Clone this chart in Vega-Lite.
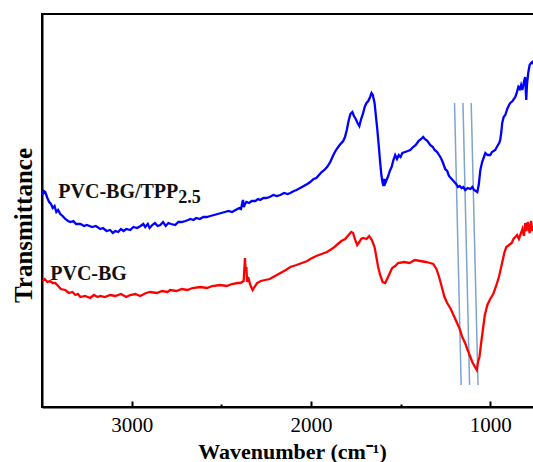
{
  "$schema": "https://vega.github.io/schema/vega-lite/v6.json",
  "width": 495,
  "height": 393,
  "autosize": {"type": "none"},
  "padding": {"left": 42, "top": 14, "right": 0, "bottom": 55},
  "background": "white",
  "config": {
    "view": {"stroke": "black", "strokeWidth": 2},
    "font": "Liberation Serif"
  },
  "datasets": {
    "spectra": [
      {"s":"PVC-BG/TPP2.5","wn":3498,"t":212},{"s":"PVC-BG/TPP2.5","wn":3490,"t":216},{"s":"PVC-BG/TPP2.5","wn":3482,"t":215},{"s":"PVC-BG/TPP2.5","wn":3470,"t":209},{"s":"PVC-BG/TPP2.5","wn":3460,"t":205},{"s":"PVC-BG/TPP2.5","wn":3450,"t":203},{"s":"PVC-BG/TPP2.5","wn":3440,"t":199},{"s":"PVC-BG/TPP2.5","wn":3430,"t":201},{"s":"PVC-BG/TPP2.5","wn":3420,"t":195},{"s":"PVC-BG/TPP2.5","wn":3410,"t":197},{"s":"PVC-BG/TPP2.5","wn":3398,"t":193},{"s":"PVC-BG/TPP2.5","wn":3385,"t":191},{"s":"PVC-BG/TPP2.5","wn":3370,"t":188},{"s":"PVC-BG/TPP2.5","wn":3355,"t":186},{"s":"PVC-BG/TPP2.5","wn":3342,"t":185},{"s":"PVC-BG/TPP2.5","wn":3325,"t":186},{"s":"PVC-BG/TPP2.5","wn":3310,"t":183},{"s":"PVC-BG/TPP2.5","wn":3286,"t":183},{"s":"PVC-BG/TPP2.5","wn":3265,"t":181},{"s":"PVC-BG/TPP2.5","wn":3250,"t":182},{"s":"PVC-BG/TPP2.5","wn":3220,"t":180},{"s":"PVC-BG/TPP2.5","wn":3200,"t":181},{"s":"PVC-BG/TPP2.5","wn":3175,"t":178},{"s":"PVC-BG/TPP2.5","wn":3160,"t":179},{"s":"PVC-BG/TPP2.5","wn":3140,"t":176},{"s":"PVC-BG/TPP2.5","wn":3120,"t":177},{"s":"PVC-BG/TPP2.5","wn":3105,"t":174},{"s":"PVC-BG/TPP2.5","wn":3091,"t":176},{"s":"PVC-BG/TPP2.5","wn":3075,"t":175},{"s":"PVC-BG/TPP2.5","wn":3060,"t":178},{"s":"PVC-BG/TPP2.5","wn":3045,"t":176},{"s":"PVC-BG/TPP2.5","wn":3030,"t":178},{"s":"PVC-BG/TPP2.5","wn":3008,"t":177},{"s":"PVC-BG/TPP2.5","wn":2990,"t":180},{"s":"PVC-BG/TPP2.5","wn":2970,"t":179},{"s":"PVC-BG/TPP2.5","wn":2950,"t":181},{"s":"PVC-BG/TPP2.5","wn":2935,"t":183},{"s":"PVC-BG/TPP2.5","wn":2924,"t":180},{"s":"PVC-BG/TPP2.5","wn":2910,"t":183},{"s":"PVC-BG/TPP2.5","wn":2900,"t":179},{"s":"PVC-BG/TPP2.5","wn":2885,"t":182},{"s":"PVC-BG/TPP2.5","wn":2870,"t":184},{"s":"PVC-BG/TPP2.5","wn":2855,"t":181},{"s":"PVC-BG/TPP2.5","wn":2840,"t":182},{"s":"PVC-BG/TPP2.5","wn":2825,"t":185},{"s":"PVC-BG/TPP2.5","wn":2810,"t":181},{"s":"PVC-BG/TPP2.5","wn":2795,"t":184},{"s":"PVC-BG/TPP2.5","wn":2780,"t":183},{"s":"PVC-BG/TPP2.5","wn":2757,"t":182},{"s":"PVC-BG/TPP2.5","wn":2740,"t":185},{"s":"PVC-BG/TPP2.5","wn":2720,"t":185},{"s":"PVC-BG/TPP2.5","wn":2700,"t":186},{"s":"PVC-BG/TPP2.5","wn":2685,"t":187},{"s":"PVC-BG/TPP2.5","wn":2673,"t":188},{"s":"PVC-BG/TPP2.5","wn":2655,"t":187},{"s":"PVC-BG/TPP2.5","wn":2640,"t":189},{"s":"PVC-BG/TPP2.5","wn":2620,"t":188},{"s":"PVC-BG/TPP2.5","wn":2600,"t":190},{"s":"PVC-BG/TPP2.5","wn":2580,"t":190},{"s":"PVC-BG/TPP2.5","wn":2561,"t":191},{"s":"PVC-BG/TPP2.5","wn":2540,"t":192},{"s":"PVC-BG/TPP2.5","wn":2520,"t":193},{"s":"PVC-BG/TPP2.5","wn":2500,"t":194},{"s":"PVC-BG/TPP2.5","wn":2480,"t":195},{"s":"PVC-BG/TPP2.5","wn":2460,"t":196},{"s":"PVC-BG/TPP2.5","wn":2440,"t":195},{"s":"PVC-BG/TPP2.5","wn":2420,"t":197},{"s":"PVC-BG/TPP2.5","wn":2400,"t":199},{"s":"PVC-BG/TPP2.5","wn":2390,"t":198},{"s":"PVC-BG/TPP2.5","wn":2383,"t":204},{"s":"PVC-BG/TPP2.5","wn":2379,"t":207},{"s":"PVC-BG/TPP2.5","wn":2374,"t":200},{"s":"PVC-BG/TPP2.5","wn":2368,"t":203},{"s":"PVC-BG/TPP2.5","wn":2360,"t":205},{"s":"PVC-BG/TPP2.5","wn":2345,"t":204},{"s":"PVC-BG/TPP2.5","wn":2330,"t":206},{"s":"PVC-BG/TPP2.5","wn":2310,"t":206},{"s":"PVC-BG/TPP2.5","wn":2295,"t":208},{"s":"PVC-BG/TPP2.5","wn":2283,"t":207},{"s":"PVC-BG/TPP2.5","wn":2265,"t":209},{"s":"PVC-BG/TPP2.5","wn":2250,"t":209},{"s":"PVC-BG/TPP2.5","wn":2230,"t":210},{"s":"PVC-BG/TPP2.5","wn":2210,"t":212},{"s":"PVC-BG/TPP2.5","wn":2190,"t":211},{"s":"PVC-BG/TPP2.5","wn":2171,"t":212},{"s":"PVC-BG/TPP2.5","wn":2150,"t":214},{"s":"PVC-BG/TPP2.5","wn":2130,"t":213},{"s":"PVC-BG/TPP2.5","wn":2115,"t":214},{"s":"PVC-BG/TPP2.5","wn":2095,"t":216},{"s":"PVC-BG/TPP2.5","wn":2080,"t":217},{"s":"PVC-BG/TPP2.5","wn":2060,"t":219},{"s":"PVC-BG/TPP2.5","wn":2040,"t":221},{"s":"PVC-BG/TPP2.5","wn":2020,"t":223},{"s":"PVC-BG/TPP2.5","wn":2004,"t":225},{"s":"PVC-BG/TPP2.5","wn":1985,"t":228},{"s":"PVC-BG/TPP2.5","wn":1970,"t":229},{"s":"PVC-BG/TPP2.5","wn":1955,"t":232},{"s":"PVC-BG/TPP2.5","wn":1940,"t":235},{"s":"PVC-BG/TPP2.5","wn":1925,"t":237},{"s":"PVC-BG/TPP2.5","wn":1910,"t":240},{"s":"PVC-BG/TPP2.5","wn":1892,"t":245},{"s":"PVC-BG/TPP2.5","wn":1875,"t":252},{"s":"PVC-BG/TPP2.5","wn":1860,"t":257},{"s":"PVC-BG/TPP2.5","wn":1840,"t":262},{"s":"PVC-BG/TPP2.5","wn":1820,"t":266},{"s":"PVC-BG/TPP2.5","wn":1810,"t":270},{"s":"PVC-BG/TPP2.5","wn":1800,"t":277},{"s":"PVC-BG/TPP2.5","wn":1790,"t":286},{"s":"PVC-BG/TPP2.5","wn":1780,"t":293},{"s":"PVC-BG/TPP2.5","wn":1769,"t":295},{"s":"PVC-BG/TPP2.5","wn":1760,"t":291},{"s":"PVC-BG/TPP2.5","wn":1750,"t":288},{"s":"PVC-BG/TPP2.5","wn":1740,"t":284},{"s":"PVC-BG/TPP2.5","wn":1730,"t":281},{"s":"PVC-BG/TPP2.5","wn":1720,"t":288},{"s":"PVC-BG/TPP2.5","wn":1710,"t":293},{"s":"PVC-BG/TPP2.5","wn":1700,"t":300},{"s":"PVC-BG/TPP2.5","wn":1690,"t":304},{"s":"PVC-BG/TPP2.5","wn":1680,"t":306},{"s":"PVC-BG/TPP2.5","wn":1670,"t":310},{"s":"PVC-BG/TPP2.5","wn":1662,"t":314},{"s":"PVC-BG/TPP2.5","wn":1655,"t":312},{"s":"PVC-BG/TPP2.5","wn":1645,"t":304},{"s":"PVC-BG/TPP2.5","wn":1637,"t":290},{"s":"PVC-BG/TPP2.5","wn":1630,"t":278},{"s":"PVC-BG/TPP2.5","wn":1622,"t":262},{"s":"PVC-BG/TPP2.5","wn":1614,"t":245},{"s":"PVC-BG/TPP2.5","wn":1607,"t":232},{"s":"PVC-BG/TPP2.5","wn":1600,"t":224},{"s":"PVC-BG/TPP2.5","wn":1595,"t":221},{"s":"PVC-BG/TPP2.5","wn":1590,"t":228},{"s":"PVC-BG/TPP2.5","wn":1585,"t":224},{"s":"PVC-BG/TPP2.5","wn":1578,"t":227},{"s":"PVC-BG/TPP2.5","wn":1569,"t":231},{"s":"PVC-BG/TPP2.5","wn":1560,"t":236},{"s":"PVC-BG/TPP2.5","wn":1550,"t":240},{"s":"PVC-BG/TPP2.5","wn":1540,"t":247},{"s":"PVC-BG/TPP2.5","wn":1530,"t":252},{"s":"PVC-BG/TPP2.5","wn":1520,"t":248},{"s":"PVC-BG/TPP2.5","wn":1510,"t":252},{"s":"PVC-BG/TPP2.5","wn":1500,"t":250},{"s":"PVC-BG/TPP2.5","wn":1490,"t":254},{"s":"PVC-BG/TPP2.5","wn":1475,"t":255},{"s":"PVC-BG/TPP2.5","wn":1460,"t":256},{"s":"PVC-BG/TPP2.5","wn":1446,"t":257},{"s":"PVC-BG/TPP2.5","wn":1430,"t":260},{"s":"PVC-BG/TPP2.5","wn":1415,"t":262},{"s":"PVC-BG/TPP2.5","wn":1400,"t":266},{"s":"PVC-BG/TPP2.5","wn":1385,"t":268},{"s":"PVC-BG/TPP2.5","wn":1374,"t":270},{"s":"PVC-BG/TPP2.5","wn":1365,"t":268},{"s":"PVC-BG/TPP2.5","wn":1350,"t":266},{"s":"PVC-BG/TPP2.5","wn":1335,"t":262},{"s":"PVC-BG/TPP2.5","wn":1320,"t":260},{"s":"PVC-BG/TPP2.5","wn":1310,"t":257},{"s":"PVC-BG/TPP2.5","wn":1296,"t":255},{"s":"PVC-BG/TPP2.5","wn":1285,"t":252},{"s":"PVC-BG/TPP2.5","wn":1275,"t":249},{"s":"PVC-BG/TPP2.5","wn":1265,"t":245},{"s":"PVC-BG/TPP2.5","wn":1251,"t":238},{"s":"PVC-BG/TPP2.5","wn":1240,"t":236},{"s":"PVC-BG/TPP2.5","wn":1230,"t":231},{"s":"PVC-BG/TPP2.5","wn":1215,"t":228},{"s":"PVC-BG/TPP2.5","wn":1200,"t":225},{"s":"PVC-BG/TPP2.5","wn":1190,"t":223},{"s":"PVC-BG/TPP2.5","wn":1180,"t":220},{"s":"PVC-BG/TPP2.5","wn":1170,"t":221},{"s":"PVC-BG/TPP2.5","wn":1160,"t":219},{"s":"PVC-BG/TPP2.5","wn":1150,"t":220},{"s":"PVC-BG/TPP2.5","wn":1139,"t":217},{"s":"PVC-BG/TPP2.5","wn":1125,"t":219},{"s":"PVC-BG/TPP2.5","wn":1110,"t":218},{"s":"PVC-BG/TPP2.5","wn":1100,"t":220},{"s":"PVC-BG/TPP2.5","wn":1090,"t":217},{"s":"PVC-BG/TPP2.5","wn":1080,"t":216},{"s":"PVC-BG/TPP2.5","wn":1072,"t":215},{"s":"PVC-BG/TPP2.5","wn":1064,"t":222},{"s":"PVC-BG/TPP2.5","wn":1055,"t":237},{"s":"PVC-BG/TPP2.5","wn":1045,"t":245},{"s":"PVC-BG/TPP2.5","wn":1035,"t":250},{"s":"PVC-BG/TPP2.5","wn":1027,"t":254},{"s":"PVC-BG/TPP2.5","wn":1015,"t":252},{"s":"PVC-BG/TPP2.5","wn":1000,"t":252},{"s":"PVC-BG/TPP2.5","wn":990,"t":255},{"s":"PVC-BG/TPP2.5","wn":972,"t":257},{"s":"PVC-BG/TPP2.5","wn":960,"t":261},{"s":"PVC-BG/TPP2.5","wn":950,"t":264},{"s":"PVC-BG/TPP2.5","wn":944,"t":267},{"s":"PVC-BG/TPP2.5","wn":938,"t":275},{"s":"PVC-BG/TPP2.5","wn":933,"t":284},{"s":"PVC-BG/TPP2.5","wn":925,"t":290},{"s":"PVC-BG/TPP2.5","wn":916,"t":292},{"s":"PVC-BG/TPP2.5","wn":905,"t":298},{"s":"PVC-BG/TPP2.5","wn":895,"t":302},{"s":"PVC-BG/TPP2.5","wn":888,"t":304},{"s":"PVC-BG/TPP2.5","wn":875,"t":306},{"s":"PVC-BG/TPP2.5","wn":860,"t":310},{"s":"PVC-BG/TPP2.5","wn":852,"t":314},{"s":"PVC-BG/TPP2.5","wn":843,"t":320},{"s":"PVC-BG/TPP2.5","wn":835,"t":318},{"s":"PVC-BG/TPP2.5","wn":828,"t":322},{"s":"PVC-BG/TPP2.5","wn":821,"t":317},{"s":"PVC-BG/TPP2.5","wn":812,"t":325},{"s":"PVC-BG/TPP2.5","wn":805,"t":330},{"s":"PVC-BG/TPP2.5","wn":799,"t":307},{"s":"PVC-BG/TPP2.5","wn":795,"t":322},{"s":"PVC-BG/TPP2.5","wn":788,"t":334},{"s":"PVC-BG/TPP2.5","wn":780,"t":342},{"s":"PVC-BG/TPP2.5","wn":772,"t":344},{"s":"PVC-BG/TPP2.5","wn":766,"t":345},{"s":"PVC-BG/TPP2.5","wn":760,"t":343},

      {"s":"PVC-BG","wn":3498,"t":126},{"s":"PVC-BG","wn":3485,"t":128},{"s":"PVC-BG","wn":3470,"t":125},{"s":"PVC-BG","wn":3455,"t":126},{"s":"PVC-BG","wn":3440,"t":124},{"s":"PVC-BG","wn":3426,"t":124},{"s":"PVC-BG","wn":3410,"t":121},{"s":"PVC-BG","wn":3395,"t":118},{"s":"PVC-BG","wn":3370,"t":117},{"s":"PVC-BG","wn":3350,"t":114},{"s":"PVC-BG","wn":3330,"t":115},{"s":"PVC-BG","wn":3314,"t":112},{"s":"PVC-BG","wn":3300,"t":113},{"s":"PVC-BG","wn":3286,"t":110},{"s":"PVC-BG","wn":3260,"t":111},{"s":"PVC-BG","wn":3231,"t":109},{"s":"PVC-BG","wn":3210,"t":112},{"s":"PVC-BG","wn":3190,"t":110},{"s":"PVC-BG","wn":3175,"t":111},{"s":"PVC-BG","wn":3150,"t":110},{"s":"PVC-BG","wn":3120,"t":112},{"s":"PVC-BG","wn":3091,"t":111},{"s":"PVC-BG","wn":3060,"t":113},{"s":"PVC-BG","wn":3030,"t":110},{"s":"PVC-BG","wn":3008,"t":112},{"s":"PVC-BG","wn":2980,"t":113},{"s":"PVC-BG","wn":2952,"t":111},{"s":"PVC-BG","wn":2920,"t":114},{"s":"PVC-BG","wn":2896,"t":115},{"s":"PVC-BG","wn":2860,"t":114},{"s":"PVC-BG","wn":2830,"t":116},{"s":"PVC-BG","wn":2800,"t":115},{"s":"PVC-BG","wn":2785,"t":117},{"s":"PVC-BG","wn":2750,"t":116},{"s":"PVC-BG","wn":2720,"t":118},{"s":"PVC-BG","wn":2690,"t":117},{"s":"PVC-BG","wn":2660,"t":119},{"s":"PVC-BG","wn":2617,"t":120},{"s":"PVC-BG","wn":2580,"t":119},{"s":"PVC-BG","wn":2550,"t":121},{"s":"PVC-BG","wn":2506,"t":122},{"s":"PVC-BG","wn":2470,"t":121},{"s":"PVC-BG","wn":2440,"t":123},{"s":"PVC-BG","wn":2410,"t":124},{"s":"PVC-BG","wn":2394,"t":124},{"s":"PVC-BG","wn":2375,"t":126},{"s":"PVC-BG","wn":2368,"t":149},{"s":"PVC-BG","wn":2364,"t":136},{"s":"PVC-BG","wn":2360,"t":140},{"s":"PVC-BG","wn":2356,"t":125},{"s":"PVC-BG","wn":2350,"t":130},{"s":"PVC-BG","wn":2338,"t":122},{"s":"PVC-BG","wn":2325,"t":117},{"s":"PVC-BG","wn":2315,"t":120},{"s":"PVC-BG","wn":2300,"t":124},{"s":"PVC-BG","wn":2280,"t":126},{"s":"PVC-BG","wn":2255,"t":127},{"s":"PVC-BG","wn":2230,"t":128},{"s":"PVC-BG","wn":2200,"t":131},{"s":"PVC-BG","wn":2170,"t":134},{"s":"PVC-BG","wn":2140,"t":137},{"s":"PVC-BG","wn":2115,"t":140},{"s":"PVC-BG","wn":2080,"t":142},{"s":"PVC-BG","wn":2050,"t":144},{"s":"PVC-BG","wn":2020,"t":146},{"s":"PVC-BG","wn":2004,"t":148},{"s":"PVC-BG","wn":1970,"t":151},{"s":"PVC-BG","wn":1940,"t":153},{"s":"PVC-BG","wn":1910,"t":155},{"s":"PVC-BG","wn":1876,"t":159},{"s":"PVC-BG","wn":1850,"t":163},{"s":"PVC-BG","wn":1830,"t":166},{"s":"PVC-BG","wn":1809,"t":168},{"s":"PVC-BG","wn":1790,"t":172},{"s":"PVC-BG","wn":1775,"t":175},{"s":"PVC-BG","wn":1765,"t":174},{"s":"PVC-BG","wn":1755,"t":168},{"s":"PVC-BG","wn":1742,"t":162},{"s":"PVC-BG","wn":1730,"t":165},{"s":"PVC-BG","wn":1720,"t":168},{"s":"PVC-BG","wn":1708,"t":169},{"s":"PVC-BG","wn":1690,"t":168},{"s":"PVC-BG","wn":1675,"t":171},{"s":"PVC-BG","wn":1660,"t":167},{"s":"PVC-BG","wn":1645,"t":160},{"s":"PVC-BG","wn":1635,"t":150},{"s":"PVC-BG","wn":1625,"t":140},{"s":"PVC-BG","wn":1614,"t":132},{"s":"PVC-BG","wn":1600,"t":125},{"s":"PVC-BG","wn":1586,"t":124},{"s":"PVC-BG","wn":1575,"t":128},{"s":"PVC-BG","wn":1560,"t":134},{"s":"PVC-BG","wn":1547,"t":139},{"s":"PVC-BG","wn":1530,"t":141},{"s":"PVC-BG","wn":1514,"t":144},{"s":"PVC-BG","wn":1480,"t":145},{"s":"PVC-BG","wn":1450,"t":144},{"s":"PVC-BG","wn":1420,"t":147},{"s":"PVC-BG","wn":1390,"t":146},{"s":"PVC-BG","wn":1360,"t":145},{"s":"PVC-BG","wn":1335,"t":144},{"s":"PVC-BG","wn":1318,"t":143},{"s":"PVC-BG","wn":1300,"t":138},{"s":"PVC-BG","wn":1285,"t":130},{"s":"PVC-BG","wn":1270,"t":120},{"s":"PVC-BG","wn":1255,"t":110},{"s":"PVC-BG","wn":1240,"t":104},{"s":"PVC-BG","wn":1220,"t":98},{"s":"PVC-BG","wn":1200,"t":90},{"s":"PVC-BG","wn":1185,"t":84},{"s":"PVC-BG","wn":1170,"t":78},{"s":"PVC-BG","wn":1156,"t":70},{"s":"PVC-BG","wn":1140,"t":64},{"s":"PVC-BG","wn":1128,"t":58},{"s":"PVC-BG","wn":1115,"t":52},{"s":"PVC-BG","wn":1100,"t":45},{"s":"PVC-BG","wn":1085,"t":40},{"s":"PVC-BG","wn":1075,"t":37},{"s":"PVC-BG","wn":1068,"t":45},{"s":"PVC-BG","wn":1060,"t":50},{"s":"PVC-BG","wn":1052,"t":62},{"s":"PVC-BG","wn":1044,"t":73},{"s":"PVC-BG","wn":1030,"t":92},{"s":"PVC-BG","wn":1016,"t":102},{"s":"PVC-BG","wn":1000,"t":108},{"s":"PVC-BG","wn":983,"t":113},{"s":"PVC-BG","wn":965,"t":122},{"s":"PVC-BG","wn":950,"t":131},{"s":"PVC-BG","wn":935,"t":143},{"s":"PVC-BG","wn":920,"t":155},{"s":"PVC-BG","wn":910,"t":160},{"s":"PVC-BG","wn":895,"t":162},{"s":"PVC-BG","wn":880,"t":164},{"s":"PVC-BG","wn":870,"t":168},{"s":"PVC-BG","wn":860,"t":170},{"s":"PVC-BG","wn":850,"t":172},{"s":"PVC-BG","wn":840,"t":168},{"s":"PVC-BG","wn":828,"t":174},{"s":"PVC-BG","wn":820,"t":178},{"s":"PVC-BG","wn":812,"t":171},{"s":"PVC-BG","wn":805,"t":184},{"s":"PVC-BG","wn":798,"t":176},{"s":"PVC-BG","wn":790,"t":185},{"s":"PVC-BG","wn":780,"t":174},{"s":"PVC-BG","wn":772,"t":186},{"s":"PVC-BG","wn":765,"t":176},{"s":"PVC-BG","wn":760,"t":180}
    ],
    "guides": [
      {"wn":1199,"t":304,"wn2":1162,"t2":22},
      {"wn":1152,"t":304,"wn2":1115,"t2":22},
      {"wn":1106,"t":304,"wn2":1068,"t2":22}
    ],
    "labels": [
      {"wn":3409,"t":215,"text":"PVC-BG/TPP","size":20},
      {"wn":2740,"t":209,"text":"2.5","size":18},
      {"wn":3454,"t":133,"text":"PVC-BG","size":20}
    ]
  },
  "encoding": {
    "x": {
      "field": "wn", "type": "quantitative",
      "scale": {"domain": [739, 3500], "reverse": true, "nice": false, "zero": false},
      "axis": {
        "title": "Wavenumber (cm⁻¹)",
        "values": [3000, 2500, 2000, 1500, 1000],
        "labelExpr": "datum.value % 1000 === 0 ? datum.label : ''",
        "format": "d",
        "grid": false,
        "domainColor": "black", "domainWidth": 2,
        "tickColor": "black", "tickWidth": 2,
        "tickSize": {"condition": {"test": "datum.value % 1000 === 0", "value": -6}, "value": -3},
        "labelFont": "Liberation Serif", "labelFontSize": 21, "labelColor": "black",
        "labelPadding": 13,
        "titleFont": "Liberation Serif", "titleFontSize": 22, "titleFontWeight": "bold", "titleColor": "black",
        "titleX": 250, "titleY": 44, "titleBaseline": "middle"
      }
    },
    "y": {
      "field": "t", "type": "quantitative",
      "scale": {"domain": [0, 393], "nice": false, "zero": false},
      "axis": {
        "title": "Transmittance",
        "labels": false, "ticks": false, "grid": false,
        "domainColor": "black", "domainWidth": 2,
        "titleFont": "Liberation Serif", "titleFontSize": 25, "titleFontWeight": "bold", "titleColor": "black",
        "titleAngle": -90, "titleX": -19, "titleY": 211, "titleBaseline": "middle", "titleAlign": "center"
      }
    }
  },
  "layer": [
    {
      "data": {"name": "guides"},
      "mark": {"type": "rule", "color": "#7fa3d3", "strokeWidth": 1.5},
      "encoding": {
        "x2": {"field": "wn2"},
        "y2": {"field": "t2"}
      }
    },
    {
      "data": {"name": "spectra"},
      "mark": {"type": "line", "strokeWidth": 2.3, "interpolate": "linear"},
      "encoding": {
        "color": {"field": "s", "type": "nominal", "scale": {"domain": ["PVC-BG/TPP2.5", "PVC-BG"], "range": ["#0000ff", "#ff0000"]}, "legend": null},
        "order": {"field": "wn", "type": "quantitative"}
      }
    },
    {
      "data": {"name": "labels"},
      "mark": {"type": "text", "align": "left", "baseline": "middle", "font": "Liberation Serif", "fontWeight": "bold", "color": "#111111"},
      "encoding": {
        "text": {"field": "text"},
        "size": {"field": "size", "type": "quantitative", "scale": null}
      }
    }
  ]
}
